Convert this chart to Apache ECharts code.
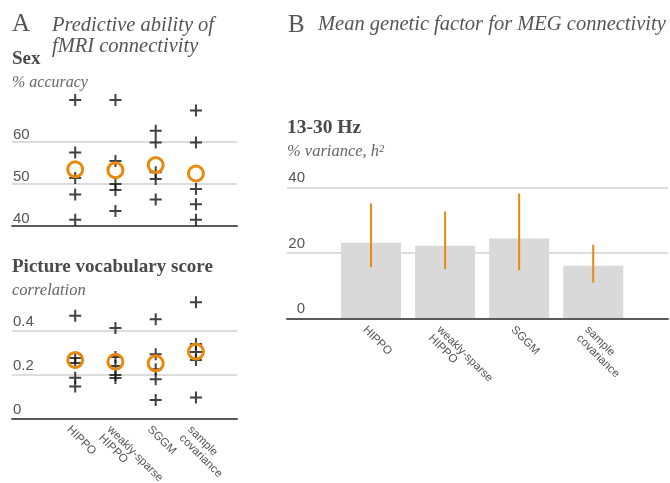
<!DOCTYPE html>
<html>
<head>
<meta charset="utf-8">
<script src="https://cdn.jsdelivr.net/npm/echarts@6/dist/echarts.min.js"></script>
<style>
  html, body { margin: 0; padding: 0; background: #fff; }
  #chart { width: 670px; height: 483px; }
</style>
</head>
<body>
<div id="chart"></div>
<script>
// Methods compared in both panels
const methods = ['HIPPO', 'weakly-sparse\nHIPPO', 'SGGM', 'sample\ncovariance'];

// Panel A: sex classification accuracy (%), five runs per method, and their means
const sexAccuracy = [
  [70.0, 57.5, 51.4, 47.5, 41.5],
  [70.0, 55.5, 50.0, 48.6, 43.6],
  [62.7, 59.9, 52.8, 51.2, 46.3],
  [67.5, 59.9, 48.8, 45.2, 41.5]
];
const sexMean = [53.5, 53.3, 54.5, 52.5];

// Panel A: picture vocabulary score correlation, five runs per method, and their means
const vocabCorr = [
  [0.467, 0.275, 0.252, 0.185, 0.145],
  [0.411, 0.280, 0.239, 0.198, 0.184],
  [0.451, 0.292, 0.224, 0.178, 0.084],
  [0.528, 0.339, 0.302, 0.266, 0.095]
];
const vocabMean = [0.266, 0.258, 0.251, 0.304];

// Panel B: mean genetic factor (% variance, h2) with its interval, 13-30 Hz band
const h2Mean = [23.1, 22.2, 24.4, 16.1];
const h2Low = [15.7, 15.1, 14.8, 11.0];
const h2High = [35.1, 32.6, 38.1, 22.5];

const SERIF = '"Liberation Serif", "DejaVu Serif", serif';
const SANS = '"Liberation Sans", Arial, sans-serif';
const ORANGE = '#e8890c';
const GRID_LINE = '#dcdcdc';
const BASE_LINE = '#5a5a5a';
const LABEL = '#555555';
const PLUS = 'path://M5,0H7V5H12V7H7V12H5V7H0V5H5Z';

const runPoints = (rows) => rows.flatMap((vals, i) => vals.map(v => [i, v]));
const meanPoints = (vals) => vals.map((v, i) => [i, v]);

function titleItem(text, left, top, style) {
  return {
    text, left, top, padding: 0,
    textStyle: Object.assign({ fontFamily: SERIF, color: '#555', fontWeight: 'normal' }, style)
  };
}

const yLabelA = {
  inside: true, align: 'left', verticalAlign: 'bottom', margin: 1,
  padding: [0, 0, 0, 0], color: LABEL, fontFamily: SANS, fontSize: 15,
  showMaxLabel: false
};

const methodLabels = {
  show: true, customValues: [0, 1, 2, 3],
  formatter: (v) => methods[Math.round(v)],
  showMinLabel: true, showMaxLabel: true, hideOverlap: false,
  rotate: -45, align: 'left', verticalAlign: 'top', margin: 3,
  padding: [3, 0, 0, 0], lineHeight: 12,
  color: LABEL, fontFamily: SANS, fontSize: 11.5
};

const xHiddenA = {
  type: 'value', min: -1.57, max: 4.02,
  axisLine: { show: true, lineStyle: { color: BASE_LINE, width: 2 } },
  axisTick: { show: false }, axisLabel: { show: false }, splitLine: { show: false }
};

const option = {
  animation: false,
  backgroundColor: '#fff',
  title: [
    titleItem('A', 12, 12, { fontSize: 25 }),
    titleItem('Predictive ability of\nfMRI connectivity', 52, 15, { fontSize: 20.5, lineHeight: 21, fontStyle: 'italic' }),
    titleItem('Sex', 12, 50, { fontSize: 19, fontWeight: 'bold', color: '#4a4a4a' }),
    titleItem('% accuracy', 12, 75, { fontSize: 16, fontStyle: 'italic', color: '#666' }),
    titleItem('Picture vocabulary score', 12, 258, { fontSize: 19, fontWeight: 'bold', color: '#4a4a4a' }),
    titleItem('correlation', 12, 282, { fontSize: 16.5, fontStyle: 'italic', color: '#666' }),
    titleItem('B', 288, 13, { fontSize: 25 }),
    titleItem('Mean genetic factor for MEG connectivity', 318, 15, { fontSize: 20.5, fontStyle: 'italic' }),
    titleItem('13-30 Hz', 287, 118, { fontSize: 19.5, fontWeight: 'bold', color: '#4a4a4a' }),
    titleItem('% variance, h\u00b2', 287, 143, { fontSize: 16.5, fontStyle: 'italic', color: '#666' })
  ],
  grid: [
    { left: 12, top: 100, width: 225, height: 126, outerBoundsMode: 'none' },
    { left: 12, top: 297.5, width: 225, height: 121, outerBoundsMode: 'none' },
    { left: 287, top: 187.3, width: 381, height: 131.4, outerBoundsMode: 'none' }
  ],
  xAxis: [
    Object.assign({ gridIndex: 0 }, xHiddenA),
    Object.assign({}, xHiddenA, { gridIndex: 1, axisLabel: methodLabels }),
    {
      gridIndex: 2, type: 'value', min: -1.135, max: 4.01, z: 5,
      axisLine: { show: true, lineStyle: { color: BASE_LINE, width: 2 } },
      axisTick: { show: false }, splitLine: { show: false },
      axisLabel: methodLabels
    }
  ],
  yAxis: [
    {
      gridIndex: 0, type: 'value', min: 40, max: 70, interval: 10,
      axisLine: { show: false }, axisTick: { show: false },
      splitLine: { show: true, showMinLine: false, showMaxLine: false, lineStyle: { color: GRID_LINE, width: 2 } },
      axisLabel: yLabelA
    },
    {
      gridIndex: 1, type: 'value', min: 0, max: 0.55, interval: 0.2,
      axisLine: { show: false }, axisTick: { show: false },
      splitLine: { show: true, showMinLine: false, showMaxLine: false, lineStyle: { color: GRID_LINE, width: 2 } },
      axisLabel: Object.assign({}, yLabelA, { padding: [0, 0, 1, 0] })
    },
    {
      gridIndex: 2, type: 'value', min: 0, max: 40, interval: 20,
      axisLine: { show: false }, axisTick: { show: false },
      splitLine: { show: true, showMinLine: false, showMaxLine: true, lineStyle: { color: GRID_LINE, width: 2 } },
      axisLabel: {
        inside: true, align: 'right', verticalAlign: 'bottom', margin: 18,
        padding: [0, 0, 2, 0], color: LABEL, fontFamily: SANS, fontSize: 15
      }
    }
  ],
  series: [
    {
      type: 'scatter', xAxisIndex: 0, yAxisIndex: 0, clip: false,
      symbol: PLUS, symbolSize: 12, itemStyle: { color: '#111' },
      data: runPoints(sexAccuracy)
    },
    {
      type: 'scatter', xAxisIndex: 0, yAxisIndex: 0, clip: false,
      symbol: 'circle', symbolSize: 15,
      itemStyle: { color: 'rgba(0,0,0,0)', borderColor: ORANGE, borderWidth: 3, opacity: 1 },
      data: meanPoints(sexMean)
    },
    {
      type: 'scatter', xAxisIndex: 1, yAxisIndex: 1, clip: false,
      symbol: PLUS, symbolSize: 12, itemStyle: { color: '#111' },
      data: runPoints(vocabCorr)
    },
    {
      type: 'scatter', xAxisIndex: 1, yAxisIndex: 1, clip: false,
      symbol: 'circle', symbolSize: 15,
      itemStyle: { color: 'rgba(0,0,0,0)', borderColor: ORANGE, borderWidth: 3, opacity: 1 },
      data: meanPoints(vocabMean)
    },
    {
      type: 'bar', xAxisIndex: 2, yAxisIndex: 2, barWidth: 60,
      itemStyle: { color: '#d9d9d9' },
      data: meanPoints(h2Mean)
    },
    {
      type: 'custom', xAxisIndex: 2, yAxisIndex: 2, z: 4,
      data: h2Low.map((lo, i) => [i, lo, h2High[i]]),
      encode: { x: 0, y: [1, 2] },
      renderItem(params, api) {
        const p0 = api.coord([api.value(0), api.value(1)]);
        const p1 = api.coord([api.value(0), api.value(2)]);
        return {
          type: 'line',
          shape: { x1: p0[0], y1: p0[1], x2: p1[0], y2: p1[1] },
          style: { stroke: ORANGE, lineWidth: 2 }
        };
      }
    }
  ]
};

const chart = echarts.init(document.getElementById('chart'), null, { renderer: 'canvas' });
chart.setOption(option);
</script>
</body>
</html>
